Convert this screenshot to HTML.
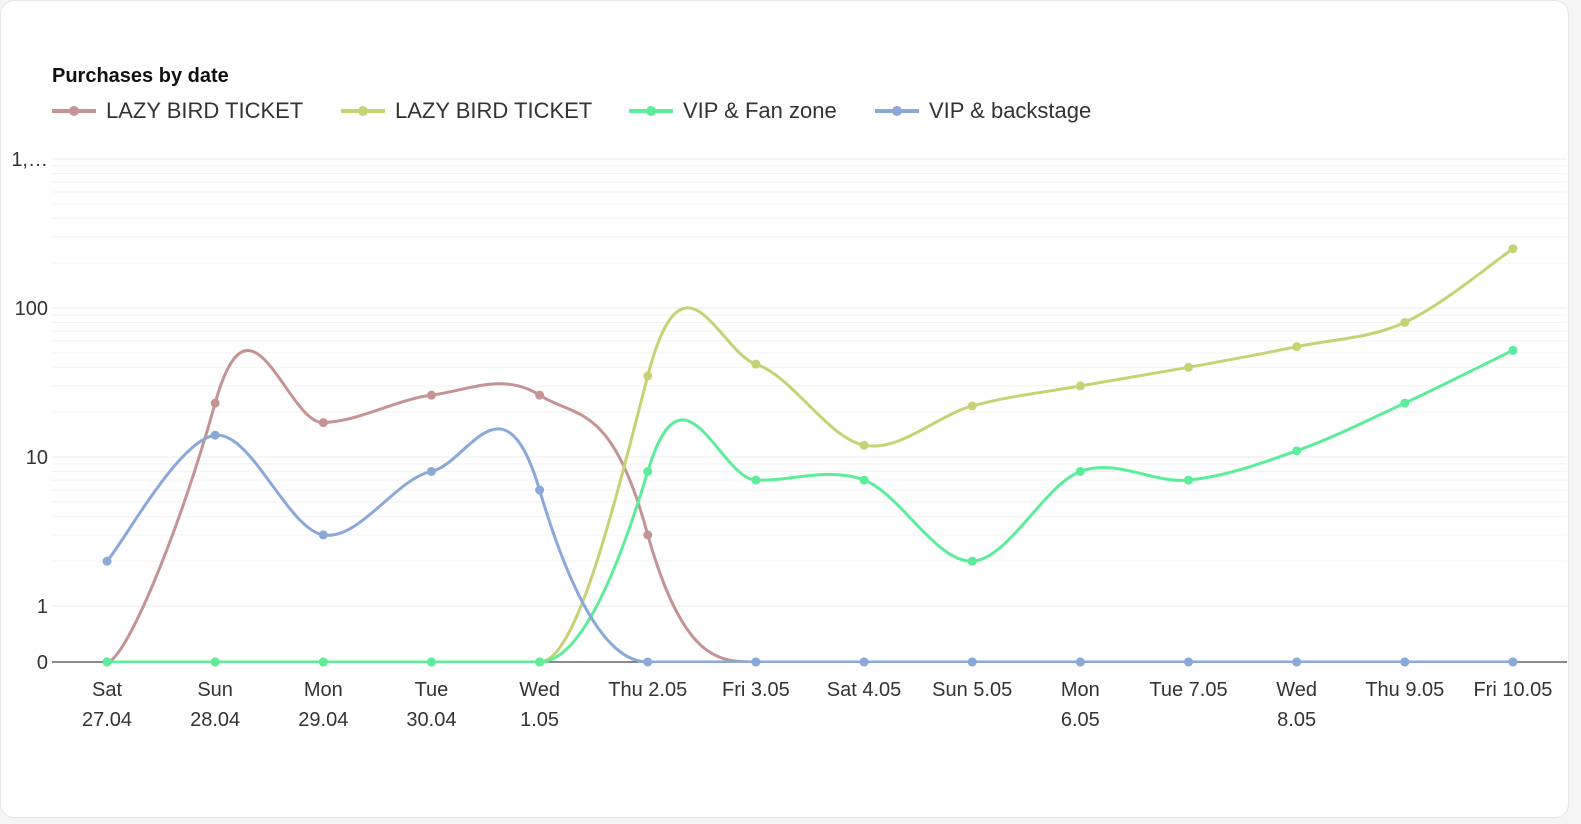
<!DOCTYPE html>
<html><head><meta charset="utf-8"><style>
body{margin:0;background:#f5f5f5;width:1581px;height:824px;overflow:hidden;font-family:"Liberation Sans",Arial,sans-serif}
.card{position:absolute;left:0;top:0;width:1567px;height:816px;background:#fff;border:1px solid #e6e6e6;border-radius:14px}
svg{position:absolute;left:0;top:0}
text{font-family:"Liberation Sans",Arial,sans-serif;fill:#333}
</style></head><body>
<div class="card"></div>
<svg id="s" width="1581" height="824" xmlns="http://www.w3.org/2000/svg">
<defs><clipPath id="c"><rect x="52" y="140" width="1515" height="523"/></clipPath></defs>
<text x="52" y="82" font-size="20" font-weight="bold" style="fill:#111">Purchases by date</text>
</svg>
<script>
const s=document.getElementById('s');const NS='http://www.w3.org/2000/svg';
function el(t,a,txt){const e=document.createElementNS(NS,t);for(const k in a)e.setAttribute(k,a[k]);if(txt!=null)e.textContent=txt;s.appendChild(e);return e;}
const Y=v=>v<=0?662:606-149*Math.log10(v);
const YS=v=>v<=0?1200:606-149*Math.log10(v);
const X=i=>107+i*108.15;
for(let d=0;d<3;d++)for(let m=1;m<=9;m++){const v=Math.pow(10,d)*m;el('line',{x1:52,x2:1567,y1:Y(v),y2:Y(v),stroke:m==1?'#ebebeb':'#f3f3f3','stroke-width':1});}
el('line',{x1:52,x2:1567,y1:Y(1000),y2:Y(1000),stroke:'#ebebeb'});
el('line',{x1:52,x2:1567,y1:662,y2:662,stroke:'#444','stroke-width':1.3});
[['1,…',1000],['100',100],['10',10],['1',1],['0',0]].forEach(([t,v])=>el('text',{x:48,y:Y(v)+7,'font-size':20,'text-anchor':'end'},t));
const labs=[['Sat','27.04'],['Sun','28.04'],['Mon','29.04'],['Tue','30.04'],['Wed','1.05'],['Thu 2.05'],['Fri 3.05'],['Sat 4.05'],['Sun 5.05'],['Mon','6.05'],['Tue 7.05'],['Wed','8.05'],['Thu 9.05'],['Fri 10.05']];
labs.forEach((l,i)=>l.forEach((t,j)=>el('text',{x:X(i),y:696+j*30,'font-size':20,'text-anchor':'middle'},t)));
const series=[
['#c49494',[0,23,17,26,26,3,0,0,0,0,0,0,0,0],'LAZY BIRD TICKET',52],
['#c6d274',[0,0,0,0,0,35,42,12,22,30,40,55,80,250],'LAZY BIRD TICKET',341],
['#5ced9a',[0,0,0,0,0,8,7,7,2,8,7,11,23,52],'VIP & Fan zone',629],
['#8aa8d8',[2,14,3,8,6,0,0,0,0,0,0,0,0,0],'VIP & backstage',875]];
const K=1/6,cl=y=>Math.max(150,Math.min(662,y));
series.forEach(([c,d,name,lx])=>{
 el('line',{x1:lx,x2:lx+44,y1:111,y2:111,stroke:c,'stroke-width':4});
 el('circle',{cx:lx+22,cy:111,r:5,fill:c});
 el('text',{x:lx+54,y:118,'font-size':22},name);
 const n=d.length;const ps=d.map((v,i)=>[X(i),YS(v)]);const p=d.map((v,i)=>[X(i),Y(v)]);const cps=[];
 for(let i=0;i<n;i++){const pr=ps[i-1]||ps[i],cu=ps[i],nx=ps[i+1]||ps[i];
  const dx=nx[0]-pr[0],dy=nx[1]-pr[1];
  cps.push([[cu[0]-K*dx,cl(cu[1]-K*dy)],[cu[0]+K*dx,cl(cu[1]+K*dy)]]);}
 let path='M'+p[0].join(',');
 for(let i=1;i<n;i++){const a=cps[i-1][1],b=cps[i][0];path+=` C${a[0]},${a[1]} ${b[0]},${b[1]} ${p[i][0]},${p[i][1]}`;}
 el('path',{d:path,fill:'none',stroke:c,'stroke-width':3,'clip-path':'url(#c)'});
 p.forEach(q=>el('circle',{cx:q[0],cy:q[1],r:4.5,fill:c}));
});
</script>
</body></html>
